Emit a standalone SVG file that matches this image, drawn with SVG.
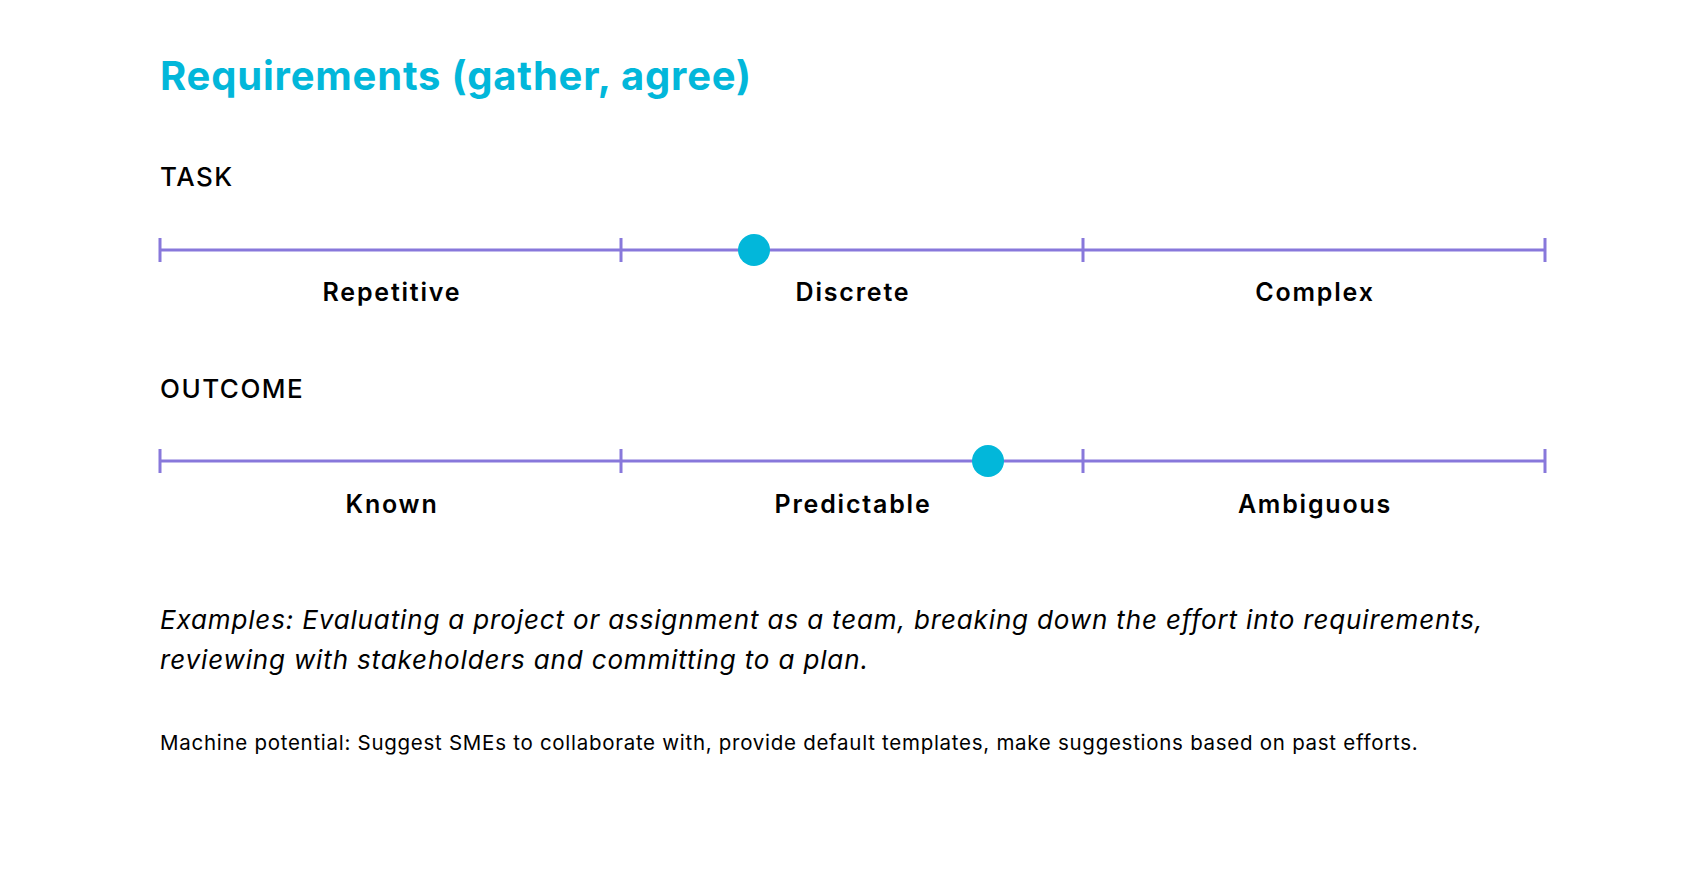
<svg xmlns="http://www.w3.org/2000/svg" width="1706" height="872" viewBox="0 0 1706 872">
<style>
.t{font-family:Inter,"Noto Sans","Liberation Sans",sans-serif;fill:#000}
.title{font-size:40px;font-weight:700;fill:#02B7DA;letter-spacing:0.8px}
.head{font-size:26px;font-weight:500;letter-spacing:1.5px}
.lab{font-size:25px;font-weight:600;text-anchor:middle;letter-spacing:1.8px}
.ex{font-size:26px;font-style:italic;letter-spacing:0.85px}
.mp{font-size:20.5px;letter-spacing:0.72px}
.axis{stroke:#8878DB;stroke-width:3;fill:none}
.dot{fill:#02B7DA}
</style>
<rect width="1706" height="872" fill="#fff"/>
<g id="title"><text class="t title" x="160" y="90">Requirements (gather, agree)</text></g>
<g id="task">
<text class="t head" x="160" y="186">TASK</text>
<g id="task-scale">
<path class="axis" d="M160 250H1545M160 238V262M621 238V262M1083 238V262M1545 238V262"/>
<circle class="dot" cx="754" cy="250" r="16"/>
</g>
<text class="t lab" x="392" y="301">Repetitive</text>
<text class="t lab" x="853" y="301">Discrete</text>
<text class="t lab" x="1315" y="301">Complex</text>
</g>
<g id="outcome">
<text class="t head" x="160" y="398">OUTCOME</text>
<g id="outcome-scale">
<path class="axis" d="M160 461H1545M160 449V473M621 449V473M1083 449V473M1545 449V473"/>
<circle class="dot" cx="988" cy="461" r="16"/>
</g>
<text class="t lab" x="392" y="513">Known</text>
<text class="t lab" x="853" y="513">Predictable</text>
<text class="t lab" x="1315" y="513">Ambiguous</text>
</g>
<g id="examples">
<text class="t ex" x="160" y="629">Examples: Evaluating a project or assignment as a team, breaking down the effort into requirements,</text>
<text class="t ex" x="160" y="669">reviewing with stakeholders and committing to a plan.</text>
</g>
<g id="machine"><text class="t mp" x="160" y="750">Machine potential: Suggest SMEs to collaborate with, provide default templates, make suggestions based on past efforts.</text></g>
<g id="connectors"/>
</svg>
